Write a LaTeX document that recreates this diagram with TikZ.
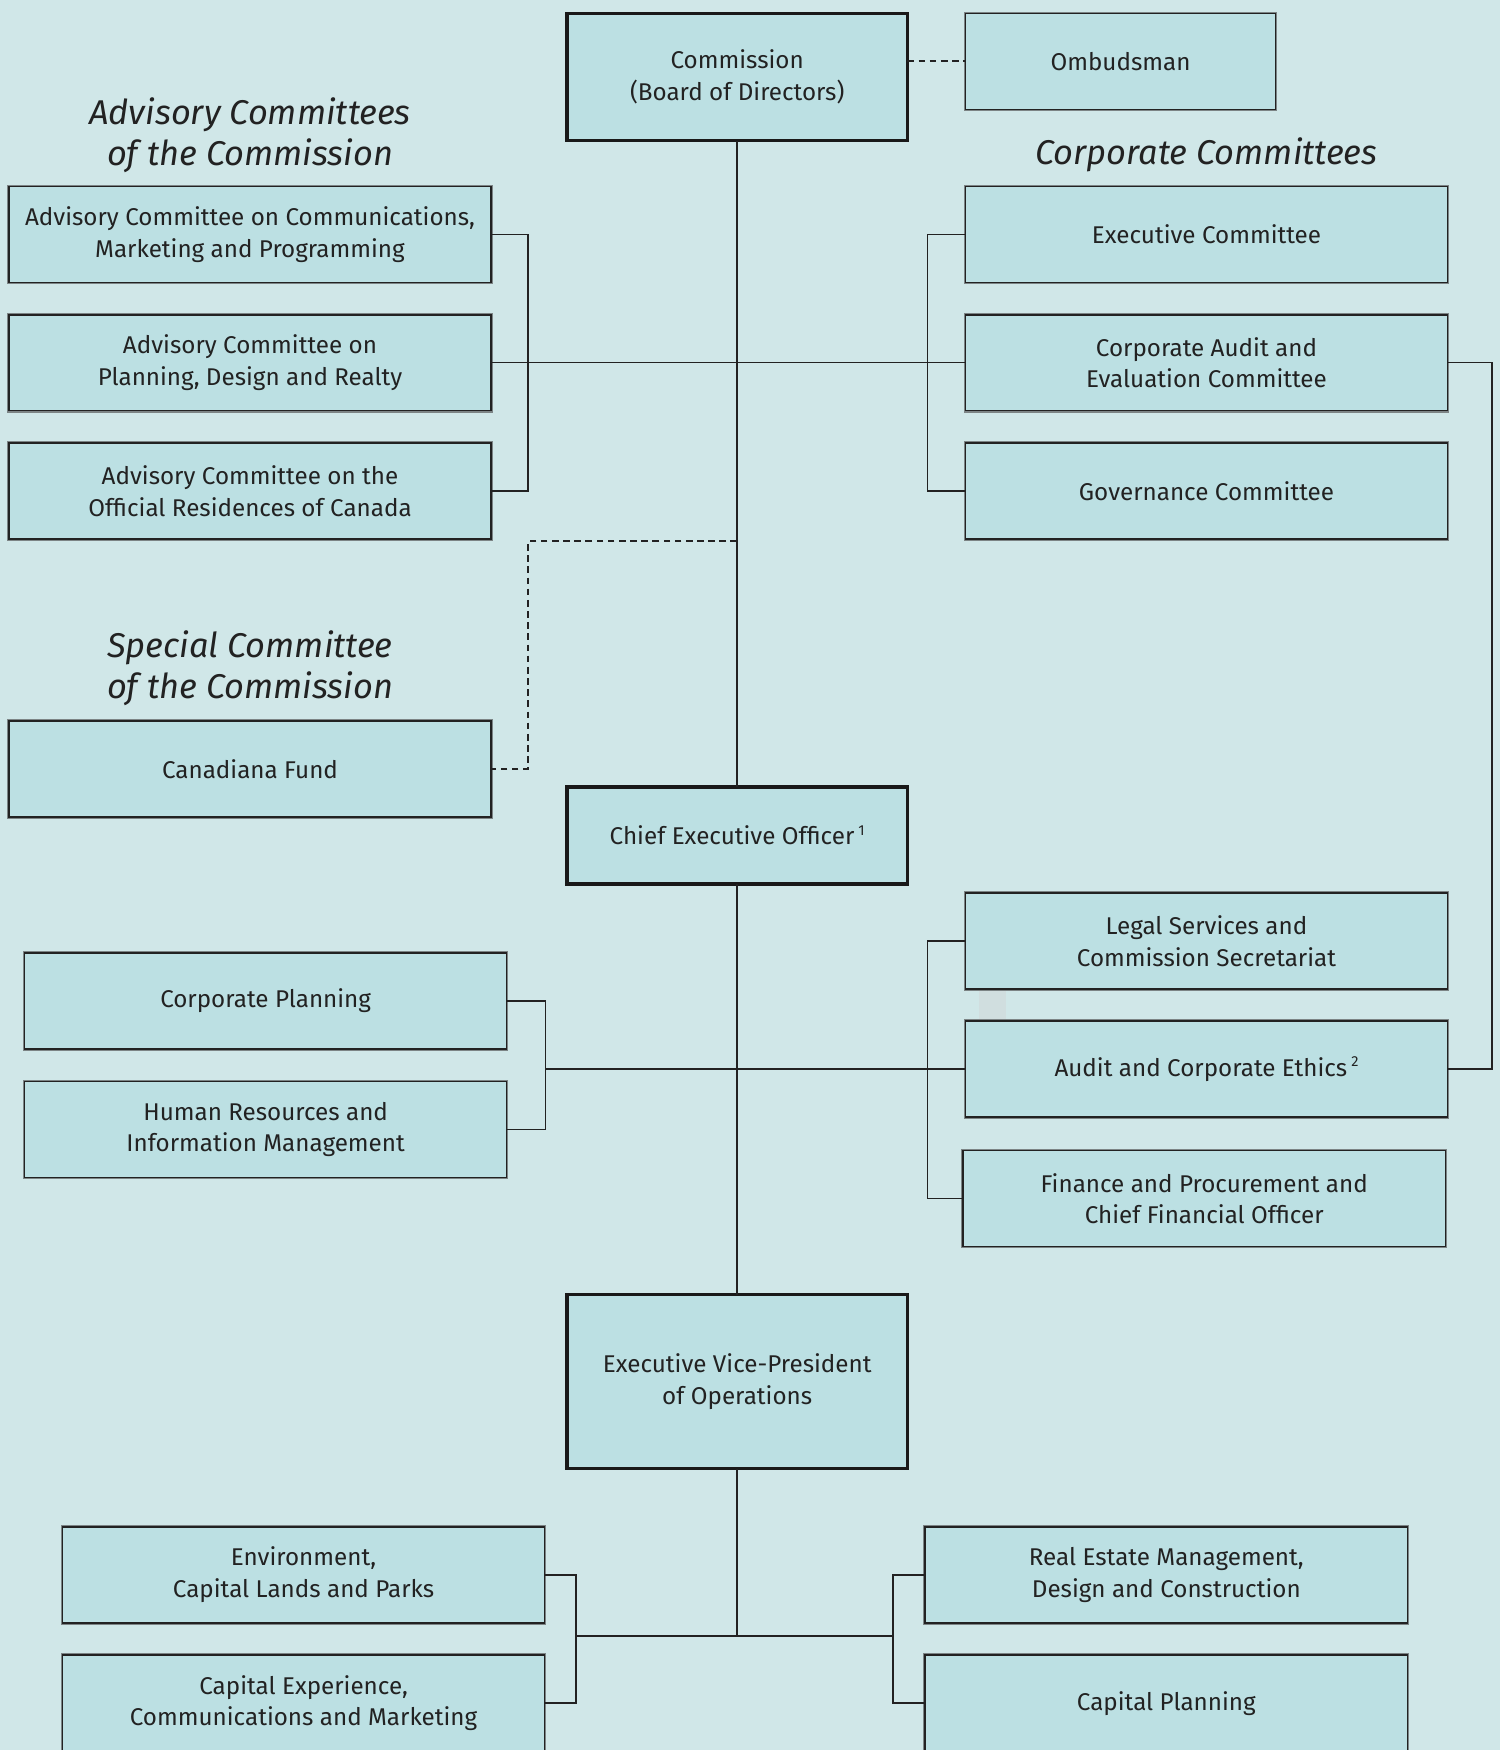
\documentclass[tikz,border=0pt]{standalone}
\usepackage{fontspec}
\setmainfont{Fira Sans}
\usetikzlibrary{calc}
\definecolor{bgc}{HTML}{D0E7E8}
\definecolor{boxc}{HTML}{BCE0E3}
\definecolor{inkc}{HTML}{222222}
\definecolor{rimc}{HTML}{7C8485}
\newcommand{\supmark}[1]{\,\raisebox{0.38em}{\fontsize{13}{13}\selectfont #1}}
\tikzset{
  unitbox/.style={draw=inkc, line width=1.4pt, fill=boxc, inner sep=2pt, outer sep=0pt,
    align=center, text=inkc, anchor=north west,
    font=\fontsize{21.7}{28.5}\selectfont,
    preaction={draw=rimc, line width=3.2pt}},
  mainbox/.style={draw=black!90, line width=3pt, fill=boxc, inner sep=2pt, outer sep=0pt,
    align=center, text=inkc, anchor=north west,
    font=\fontsize{21.7}{28.5}\selectfont},
  wide/.style={minimum width=432pt, minimum height=86pt},
  grouptitle/.style={align=center, text=inkc, font=\fontsize{30.8}{37}\selectfont\itshape},
  link/.style={draw=inkc, line width=1.3pt},
  dashlink/.style={draw=inkc, line width=1.6pt, dash pattern=on 6pt off 4pt}
}
\begin{document}
\begin{tikzpicture}[x=1pt,y=-1pt]
\useasboundingbox (0,0) rectangle (1344,1568);
\fill[bgc] (0,0) rectangle (1344,1568);

% artifact patch
\fill[fill=black!10!bgc!70!white] (877,888) rectangle (901,914);

% titles
\node[grouptitle] (t1) at (224,121) {Advisory Committees\\of the Commission};
\node[grouptitle] (t2) at (1081,139) {Corporate Committees};
\node[grouptitle] (t3) at (224,599) {Special Committee\\of the Commission};

% main column
\node[mainbox, minimum width=305pt, minimum height=114pt] (comm) at (508,12) {\rule{0pt}{4pt}Commission\\(Board of Directors)};
\node[unitbox, minimum width=278pt, minimum height=86pt] (omb) at (865,12) {Ombudsman};
\node[mainbox, minimum width=305pt, minimum height=87pt] (ceo) at (508,705) {Chief Executive Officer\supmark{1}};
\node[mainbox, minimum width=305pt, minimum height=156pt] (evp) at (508,1160) {Executive Vice-President\\of Operations};

% advisory committees
\node[unitbox, wide] (adv1) at (8,167) {Advisory Committee on Communications,\\Marketing and Programming};
\node[unitbox, wide] (adv2) at (8,282) {Advisory Committee on\\Planning, Design and Realty};
\node[unitbox, wide] (adv3) at (8,397) {Advisory Committee on the\\Official Residences of Canada};
\node[unitbox, wide] (canad) at (8,646) {Canadiana Fund};

% corporate committees
\node[unitbox, wide] (exec) at (865,167) {Executive Committee};
\node[unitbox, wide] (caud) at (865,282) {Corporate Audit and\\Evaluation Committee};
\node[unitbox, wide] (gov) at (865,397) {Governance Committee};

% CEO units
\node[unitbox, wide] (cplan) at (22,854) {Corporate Planning};
\node[unitbox, wide] (hrim) at (22,969) {Human Resources and\\Information Management};
\node[unitbox, wide] (legal) at (865,800) {Legal Services and\\Commission Secretariat};
\node[unitbox, wide] (audit) at (865,915) {Audit and Corporate Ethics\supmark{2}};
\node[unitbox, wide] (fin) at (863,1031) {Finance and Procurement and\\Chief Financial Officer};

% EVP units
\node[unitbox, wide] (env) at (56,1368) {Environment,\\Capital Lands and Parks};
\node[unitbox, wide] (cexp) at (56,1483) {Capital Experience,\\Communications and Marketing};
\node[unitbox, wide] (real) at (829,1368) {Real Estate Management,\\Design and Construction};
\node[unitbox, wide] (capp) at (829,1483) {Capital Planning};

% coordinates
\coordinate (lb1) at (473,325);
\coordinate (rb1) at (831,325);
\coordinate (dj) at (660.5,485);
\coordinate (dc) at (473,485);
\coordinate (dd) at (473,689);
\coordinate (lb2) at (489,958);
\coordinate (rb2) at (831,958);
\coordinate (lb3) at (516,1466);
\coordinate (rb3) at (800,1466);
\coordinate (mj3) at (660.5,1466);

% trunk
\draw[link] (comm.south) -- (ceo.north);
\draw[link] (ceo.south) -- (evp.north);
\draw[link] (evp.south) -- (mj3);

% commission level
\draw[dashlink] (comm.east |- omb.west) -- (omb.west);
\draw[link] (adv1.east) -| (lb1) |- (adv3.east);
\draw[link] (adv2.east) -- (caud.west);
\draw[link] (exec.west) -| (rb1) |- (gov.west);
\draw[link] (caud.east) -- ++(40,0) |- (audit.east);
\draw[dashlink] (dj) -- (dc) -- (dd) -- (canad.east);

% CEO level
\draw[link] (cplan.east) -| (lb2) |- (hrim.east);
\draw[link] (lb2) -- (audit.west);
\draw[link] (legal.west) -| (rb2) |- (fin.west);

% EVP level
\draw[link] (lb3) -- (rb3);
\draw[link] (env.east) -| (lb3) |- (cexp.east);
\draw[link] (real.west) -| (rb3) |- (capp.west);
\end{tikzpicture}
\end{document}
